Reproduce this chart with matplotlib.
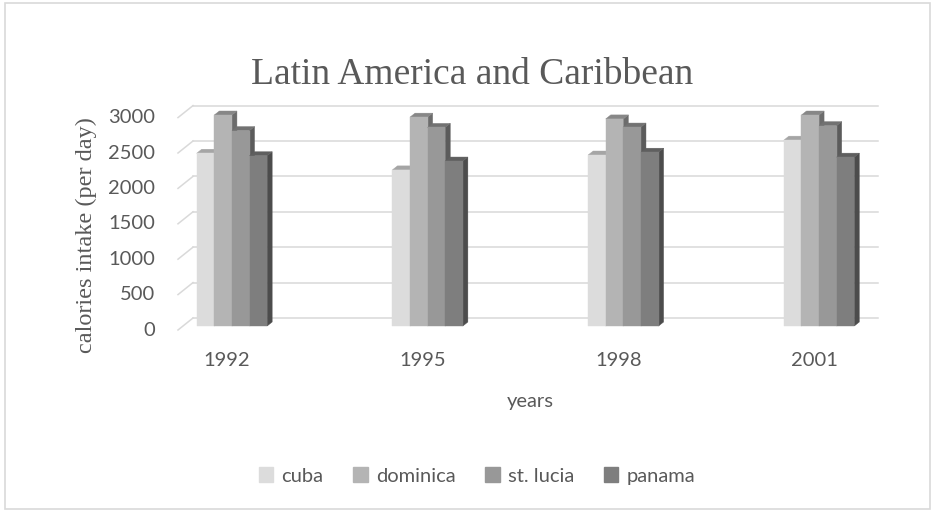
# 3d-style clustered columns, calories per day
import numpy as np
import matplotlib.pyplot as plt
from matplotlib.patches import Polygon, Rectangle

years = ["1992", "1995", "1998", "2001"]
countries = ["cuba", "dominica", "st. lucia", "panama"]
cuba = [2440, 2205, 2415, 2625]
dominica = [2980, 2950, 2925, 2980]
st_lucia = [2760, 2805, 2810, 2830]
panama = [2405, 2330, 2455, 2385]
y_ticks = [0, 500, 1000, 1500, 2000, 2500, 3000]

front_cols = ["#dcdcdc", "#b4b4b4", "#989898", "#7e7e7e"]
txt_col = "#595959"
grid_col = "#d9d9d9"
sans_size = 14.5


def shade(hex_col, f):
	"""darker version of a grey for the top / side faces"""
	c = np.array([int(hex_col[i:i + 2], 16) for i in (1, 3, 5)]) * f / 255.0
	return tuple(c)


W, H = 935, 512
fig = plt.figure(figsize=(W / 100, H / 100), dpi=100)

# axes = plane of the bar front faces
ax_l, ax_r, ax_b, ax_t = 183, 868, 326, 113.6
ax = fig.add_axes([ax_l / W, 1 - ax_b / H, (ax_r - ax_l) / W, (ax_b - ax_t) / H])
xmin, xmax = -0.25, 3.25
ax.set_xlim(xmin, xmax)
ax.set_ylim(0, 3000)
ax.axis("off")

ppx = (ax_r - ax_l) / (xmax - xmin)   # pixels per x unit
ppy = (ax_b - ax_t) / 3000.0          # pixels per y unit
ddx, ddy = 5 / ppx, 4 / ppy           # bar depth in data units

# back wall gridlines + left wall diagonals
for v in y_ticks:
	ax.plot([xmin + 2 * ddx, xmax + 2 * ddx], [v + 2 * ddy, v + 2 * ddy], color=grid_col,
	        lw=1.1, clip_on=False, zorder=1)
	ax.plot([xmin - ddx, xmin + 2 * ddx], [v - ddy, v + 2 * ddy], color=grid_col,
	        lw=1.1, clip_on=False, zorder=1)
	ax.annotate(str(v), (xmin, v - ddy), xytext=(-28, 0), textcoords="offset pixels",
	            ha="right", va="center", fontsize=sans_size, color=txt_col, family="Lato",
	            annotation_clip=False)

series = [cuba, dominica, st_lucia, panama]
bw = 0.09
x = np.arange(len(years))
z = 2
for gi in range(len(years)):
	for si, vals in enumerate(series):
		x0 = x[gi] + (si - 1.5) * bw - bw / 2
		x1 = x0 + bw
		h = vals[gi]
		fc = front_cols[si]
		side = Polygon([(x1, 0), (x1 + ddx, ddy), (x1 + ddx, h + ddy), (x1, h)],
		               closed=True, fc=shade(fc, 0.6), ec=shade(fc, 0.6), lw=0.3,
		               zorder=z, clip_on=False)
		top = Polygon([(x0, h), (x1, h), (x1 + ddx, h + ddy), (x0 + ddx, h + ddy)],
		              closed=True, fc=shade(fc, 0.75), ec=shade(fc, 0.75), lw=0.3,
		              zorder=z, clip_on=False)
		ax.add_patch(side)
		ax.add_patch(top)
		ax.bar(x0, h, bw, align="edge", color=fc, edgecolor=fc, lw=0.3, zorder=z + 0.5,
		       clip_on=False)
		z += 1

# category labels in the front plane
for gi, yr in enumerate(years):
	ax.annotate(yr, (x[gi] - ddx, 0), xytext=(0, -35), textcoords="offset pixels",
	            ha="center", va="center", fontsize=sans_size, color=txt_col, family="Lato",
	            annotation_clip=False)

fig.text(530 / W, 1 - 402 / H, "years", ha="center", va="center", fontsize=sans_size,
         color=txt_col, family="Lato")
fig.text(86 / W, 1 - 235 / H, "calories intake (per day)", rotation=90, ha="center",
         va="center", fontsize=17.5, color=txt_col, family="Liberation Serif")
fig.text(472 / W, 1 - 75 / H, "Latin America and Caribbean", ha="center", va="center",
         fontsize=27, color=txt_col, family="Liberation Serif")

# legend
handles = [Rectangle((0, 0), 1, 1, fc=c, ec=c) for c in front_cols]
fig.legend(handles, countries, loc="center", bbox_to_anchor=(477 / W, 1 - 476 / H), ncol=4,
           frameon=False, prop={"family": "Lato", "size": sans_size}, labelcolor=txt_col,
           handlelength=0.7, handleheight=0.7, handletextpad=0.4, columnspacing=1.5)

# chart border
fig.add_artist(Rectangle((5 / W, 3 / H), (W - 10) / W, (H - 6) / H, transform=fig.transFigure,
                         fill=False, ec=grid_col, lw=1.2))

plt.savefig("out.png", dpi=100)
